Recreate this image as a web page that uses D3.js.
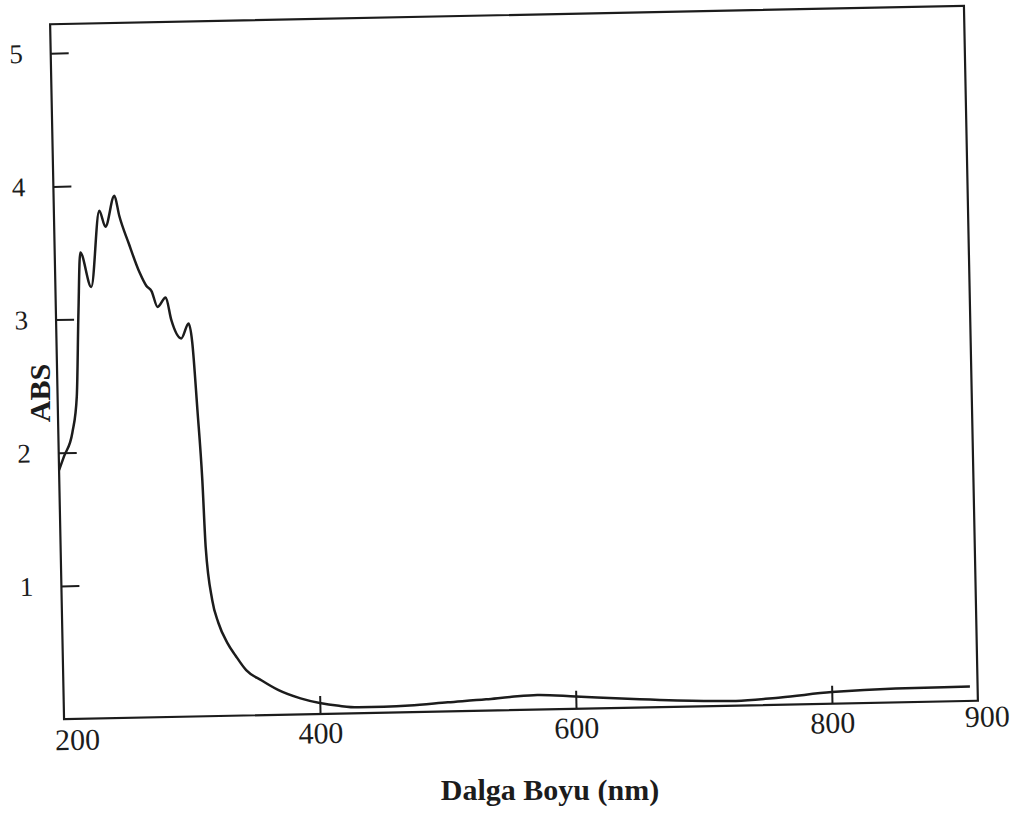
<!DOCTYPE html>
<html>
<head>
<meta charset="utf-8">
<script src="https://cdn.jsdelivr.net/npm/d3@7"></script>
<style>
  body { margin: 0; background: #fff; }
  text { font-family: "Liberation Serif", "Times New Roman", serif; fill: #1c1c1c; }
</style>
</head>
<body>
<div id="chart"></div>
<script>
// UV-Vis spectrum
const wavelength = [200, 204, 211, 215, 217.6, 220, 228, 235.5, 240, 247.5, 251, 258, 266, 271, 275, 279.5,
    286, 290, 297.5, 303.5, 306, 309, 311.7, 313.3, 317.6, 322, 328.6, 335, 343, 355, 368, 385,
    400, 415, 430, 450, 470, 500, 530, 550, 570, 600, 650, 700, 725, 760, 800, 850, 908];
const absorbance = [1.87, 1.97, 2.15, 2.42, 3.05, 3.50, 3.24, 3.81, 3.69, 3.92, 3.77, 3.56, 3.34, 3.24, 3.20, 3.08,
    3.15, 2.98, 2.84, 2.95, 2.81, 2.30, 1.78, 1.27, 0.87, 0.70, 0.55, 0.45, 0.34, 0.26, 0.185, 0.12,
    0.082, 0.058, 0.044, 0.045, 0.05, 0.068, 0.085, 0.10, 0.11, 0.092, 0.062, 0.04, 0.035, 0.055, 0.087, 0.105, 0.108];

const xTicks = [400, 600, 800];
const yTicks = [1, 2, 3, 4, 5];
const xEndLabels = ["200", "900"];

const width = 1018;
const height = 817;
const margin = { top: 15, right: 47, bottom: 107, left: 57 };
const tilt = -1.15; // the scanned page is slightly rotated

const svg = d3.select('#chart')
    .append('svg')
    .attr('width', width)
    .attr('height', height);

const plotW = width - margin.left - margin.right;
const plotH = height - margin.top - margin.bottom;
const cx = margin.left + plotW / 2;
const cy = margin.top + plotH / 2;

const g = svg.append('g')
    .attr('transform', `rotate(${tilt}, ${cx}, ${cy})`);

const x = d3.scaleLinear()
    .domain([200, 914])
    .range([margin.left, width - margin.right]);

const y = d3.scaleLinear()
    .domain([0, plotH / 133.2])
    .range([height - margin.bottom, margin.top]);

// frame
g.append('rect')
    .attr('x', margin.left)
    .attr('y', margin.top)
    .attr('width', plotW)
    .attr('height', plotH)
    .attr('fill', 'none')
    .attr('stroke', '#1c1c1c')
    .attr('stroke-width', 2.2);

function xAxis(g) {
    g.attr('transform', `translate(0, ${height - margin.bottom})`)
        .call(d3.axisBottom(x).tickValues(xTicks).tickSize(-18).tickPadding(8).tickFormat(d3.format('d')))
        .call(g => g.select('.domain').remove())
        .attr('font-size', '30px')
        .attr('font-family', null);
    g.selectAll('line').attr('stroke', '#1c1c1c').attr('stroke-width', 2);
}
function yAxis(g) {
    g.attr('transform', `translate(${margin.left},0)`)
        .call(d3.axisLeft(y).tickValues(yTicks).tickSize(-18).tickPadding(28).tickFormat(d3.format('d')))
        .call(g => g.select('.domain').remove())
        .attr('font-size', '27px')
        .attr('font-family', null);
    g.selectAll('line').attr('stroke', '#1c1c1c').attr('stroke-width', 2);
}

g.append('g').call(xAxis);
g.append('g').call(yAxis);

// corner labels of the wavelength axis
g.append('text')
    .attr('x', x(200) + 13)
    .attr('y', height - margin.bottom + 31)
    .attr('text-anchor', 'middle')
    .attr('font-size', '30px')
    .text(xEndLabels[0]);
g.append('text')
    .attr('x', x(914) + 9)
    .attr('y', height - margin.bottom + 26)
    .attr('text-anchor', 'middle')
    .attr('font-size', '30px')
    .text(xEndLabels[1]);

const line = d3.line()
    .x((d, i) => x(wavelength[i]))
    .y(d => y(d))
    .curve(d3.curveMonotoneX);

g.append('path')
    .datum(absorbance)
    .attr('d', line)
    .attr('fill', 'none')
    .attr('stroke', '#1c1c1c')
    .attr('stroke-width', 2.5)
    .attr('stroke-linejoin', 'round');

svg.append('text')
    .attr('transform', `translate(50, 393) rotate(-90)`)
    .attr('text-anchor', 'middle')
    .attr('font-size', '30px')
    .attr('font-weight', 'bold')
    .text('ABS');

svg.append('text')
    .attr('x', 550)
    .attr('y', 800)
    .attr('text-anchor', 'middle')
    .attr('font-size', '30px')
    .attr('font-weight', 'bold')
    .text('Dalga Boyu (nm)');
</script>
</body>
</html>
